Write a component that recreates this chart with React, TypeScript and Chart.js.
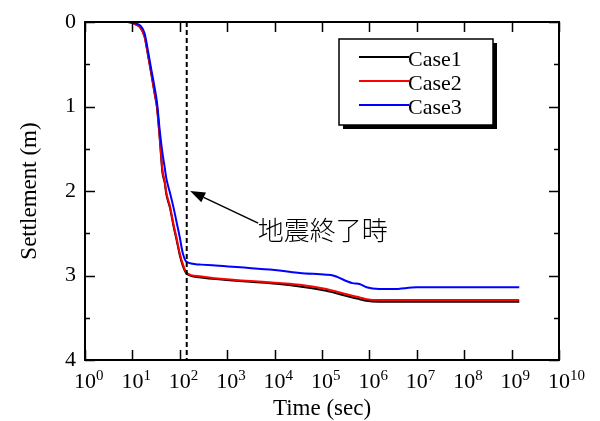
import React, { useEffect, useRef } from "react";
import { Chart, registerables } from "chart.js";

Chart.register(...registerables);

// ---- data ----
const timeSec = [
  1, 8, 10, 12, 14.5, 18, 21.6, 25, 29.5, 33, 38, 43, 48, 52, 62, 74, 85, 100,
  115, 140, 260, 490, 12600, 34000, 123000, 170000, 440000, 620000, 870000,
  1600000, 3200000, 10000000, 1450000000,
];
const case1 = [
  0, 0, 0.01, 0.03, 0.06, 0.17, 0.41, 0.61, 0.85, 1.01, 1.4, 1.78, 1.9, 2.04,
  2.2, 2.42, 2.57, 2.76, 2.88, 2.98, 3.02, 3.04, 3.1, 3.13, 3.18, 3.2, 3.26,
  3.28, 3.3, 3.31, 3.31, 3.31, 3.31,
];
const case2 = [
  0, 0, 0.01, 0.03, 0.06, 0.17, 0.4, 0.6, 0.84, 1.0, 1.38, 1.75, 1.88, 2.02,
  2.18, 2.4, 2.55, 2.74, 2.86, 2.97, 3.01, 3.03, 3.09, 3.11, 3.16, 3.18, 3.24,
  3.26, 3.28, 3.29, 3.29, 3.29, 3.29,
];
const case3 = [
  0, 0, 0.005, 0.02, 0.04, 0.13, 0.36, 0.56, 0.78, 0.95, 1.3, 1.55, 1.72, 1.85,
  2.02, 2.2, 2.36, 2.55, 2.73, 2.84, 2.87, 2.88, 2.94, 2.97, 2.99, 3.0, 3.09,
  3.1, 3.14, 3.16, 3.16, 3.14, 3.14,
];
const seriesLabels = ["Case1", "Case2", "Case3"];
const seriesColors = ["#000000", "#ff0000", "#0000ff"];

const xDecades = [0, 1, 2, 3, 4, 5, 6, 7, 8, 9, 10];
const yMajorTicks = [0, 1, 2, 3, 4];
const yMinorTicks = [0.5, 1.5, 2.5, 3.5];

const quakeEndSec = 140;
const arrowTip = [165, 2.0];
const arrowTail = [4500, 2.38];
const annotationText = "地震終了時";
const annotationPos = [4400, 2.46];

const xTitle = "Time (sec)";
const yTitle = "Settlement (m)";

const SERIF = '"Liberation Serif", "Times New Roman", Times, "DejaVu Serif", serif';

const decorPlugin = {
  id: "decor",
  afterDatasetsDraw(chart: any) {
    const ctx = chart.ctx as CanvasRenderingContext2D;
    const { left, right, top, bottom } = chart.chartArea;
    const xs = chart.scales.x;
    const ys = chart.scales.y;
    ctx.save();

    // frame
    ctx.strokeStyle = "#000";
    ctx.lineWidth = 2;
    ctx.strokeRect(left, top, right - left, bottom - top);

    // x ticks
    ctx.lineWidth = 1.5;
    xDecades.forEach((d) => {
      const px = Math.round(xs.getPixelForValue(Math.pow(10, d))) + 0.5;
      ctx.beginPath();
      ctx.moveTo(px, bottom);
      ctx.lineTo(px, bottom - 10);
      ctx.moveTo(px, top);
      ctx.lineTo(px, top + 10);
      ctx.stroke();
    });
    // y ticks
    yMajorTicks.forEach((v) => {
      const py = Math.round(ys.getPixelForValue(v)) + 0.5;
      ctx.beginPath();
      ctx.moveTo(left, py);
      ctx.lineTo(left + 10, py);
      ctx.moveTo(right, py);
      ctx.lineTo(right - 10, py);
      ctx.stroke();
    });
    yMinorTicks.forEach((v) => {
      const py = Math.round(ys.getPixelForValue(v)) + 0.5;
      ctx.beginPath();
      ctx.moveTo(left, py);
      ctx.lineTo(left + 5, py);
      ctx.moveTo(right, py);
      ctx.lineTo(right - 5, py);
      ctx.stroke();
    });

    // y tick labels
    ctx.fillStyle = "#000";
    ctx.font = `22px ${SERIF}`;
    ctx.textAlign = "right";
    ctx.textBaseline = "middle";
    yMajorTicks.forEach((v) => {
      const py = ys.getPixelForValue(v);
      ctx.fillText(String(v), left - 9, py);
    });

    // x tick labels 10^n
    ctx.textBaseline = "alphabetic";
    xDecades.forEach((d) => {
      const px = xs.getPixelForValue(Math.pow(10, d));
      ctx.font = `22px ${SERIF}`;
      ctx.textAlign = "center";
      ctx.fillText("10", px, bottom + 28);
      const w = ctx.measureText("10").width;
      ctx.font = `15px ${SERIF}`;
      ctx.textAlign = "left";
      ctx.fillText(String(d), px + w / 2, bottom + 20);
    });

    // axis titles
    ctx.font = `23px ${SERIF}`;
    ctx.textAlign = "center";
    ctx.fillText(xTitle, (left + right) / 2, bottom + 55);
    ctx.save();
    ctx.translate(36, (top + bottom) / 2);
    ctx.rotate(-Math.PI / 2);
    ctx.textBaseline = "alphabetic";
    ctx.fillText(yTitle, 0, 0);
    ctx.restore();

    // arrow
    const tx = xs.getPixelForValue(arrowTip[0]);
    const ty = ys.getPixelForValue(arrowTip[1]);
    const sx = xs.getPixelForValue(arrowTail[0]);
    const sy = ys.getPixelForValue(arrowTail[1]);
    const ang = Math.atan2(ty - sy, tx - sx);
    const headLen = 15;
    const headW = 5.5;
    const bx = tx - headLen * Math.cos(ang);
    const by = ty - headLen * Math.sin(ang);
    ctx.strokeStyle = "#000";
    ctx.lineWidth = 1.5;
    ctx.beginPath();
    ctx.moveTo(sx, sy);
    ctx.lineTo(bx, by);
    ctx.stroke();
    ctx.beginPath();
    ctx.moveTo(tx, ty);
    ctx.lineTo(bx + headW * Math.sin(ang), by - headW * Math.cos(ang));
    ctx.lineTo(bx - headW * Math.sin(ang), by + headW * Math.cos(ang));
    ctx.closePath();
    ctx.fill();

    // annotation text
    ctx.font = `300 26px "Noto Sans CJK JP", sans-serif`;
    ctx.textAlign = "left";
    ctx.textBaseline = "middle";
    ctx.fillText(
      annotationText,
      xs.getPixelForValue(annotationPos[0]),
      ys.getPixelForValue(annotationPos[1])
    );

    // legend
    const lx = 339, ly = 39, lw = 154, lh = 86;
    ctx.fillStyle = "#000";
    ctx.fillRect(lx + 4, ly + 4, lw, lh);
    ctx.fillStyle = "#fff";
    ctx.fillRect(lx, ly, lw, lh);
    ctx.strokeStyle = "#000";
    ctx.lineWidth = 1.5;
    ctx.strokeRect(lx, ly, lw, lh);
    const rowY = [57, 81, 105];
    seriesLabels.forEach((lab, i) => {
      ctx.strokeStyle = seriesColors[i];
      ctx.lineWidth = 2;
      ctx.beginPath();
      ctx.moveTo(359, rowY[i]);
      ctx.lineTo(409, rowY[i]);
      ctx.stroke();
      ctx.fillStyle = "#000";
      ctx.font = `22px ${SERIF}`;
      ctx.textAlign = "left";
      ctx.textBaseline = "alphabetic";
      ctx.fillText(lab, 408, rowY[i] + 9);
    });

    ctx.restore();
  },
};

export default function App() {
  const ref = useRef<HTMLCanvasElement | null>(null);
  useEffect(() => {
    document.body.style.margin = "0";
    let chart: Chart | null = null;
    let cancelled = false;
    const build = () => {
      if (cancelled || !ref.current) return;
      const mk = (vals: number[]) => timeSec.map((t, i) => ({ x: t, y: vals[i] }));
      chart = new Chart(ref.current, {
        type: "line",
        data: {
          datasets: [
            {
              label: seriesLabels[0],
              data: mk(case1),
              borderColor: seriesColors[0],
              borderWidth: 2,
              pointRadius: 0,
              cubicInterpolationMode: "monotone",
              order: 4,
            },
            {
              label: seriesLabels[1],
              data: mk(case2),
              borderColor: seriesColors[1],
              borderWidth: 2,
              pointRadius: 0,
              cubicInterpolationMode: "monotone",
              order: 3,
            },
            {
              label: seriesLabels[2],
              data: mk(case3),
              borderColor: seriesColors[2],
              borderWidth: 2,
              pointRadius: 0,
              cubicInterpolationMode: "monotone",
              order: 2,
            },
            {
              label: "quake end",
              data: [
                { x: quakeEndSec, y: 0 },
                { x: quakeEndSec, y: 4 },
              ],
              borderColor: "#000",
              borderWidth: 2,
              borderDash: [5, 3],
              pointRadius: 0,
              order: 1,
            },
          ] as any,
        },
        options: {
          animation: false,
          responsive: false,
          devicePixelRatio: 1,
          layout: { padding: { left: 85, right: 41, top: 22, bottom: 61 } },
          plugins: { legend: { display: false }, tooltip: { enabled: false } },
          scales: {
            x: { type: "logarithmic", min: 1, max: 1e10, display: false },
            y: { type: "linear", min: 0, max: 4, reverse: true, display: false },
          },
        },
        plugins: [decorPlugin],
      });
    };
    const fonts = (document as any).fonts;
    if (fonts && fonts.load) {
      Promise.all([
        fonts.load('22px "Liberation Serif"'),
        fonts.load('300 26px "Noto Sans CJK JP"'),
      ])
        .catch(() => null)
        .then(build);
    } else {
      build();
    }
    return () => {
      cancelled = true;
      if (chart) chart.destroy();
    };
  }, []);
  return (
    <div style={{ fontFamily: SERIF }}>
      <canvas ref={ref} width={600} height={421} />
    </div>
  );
}
